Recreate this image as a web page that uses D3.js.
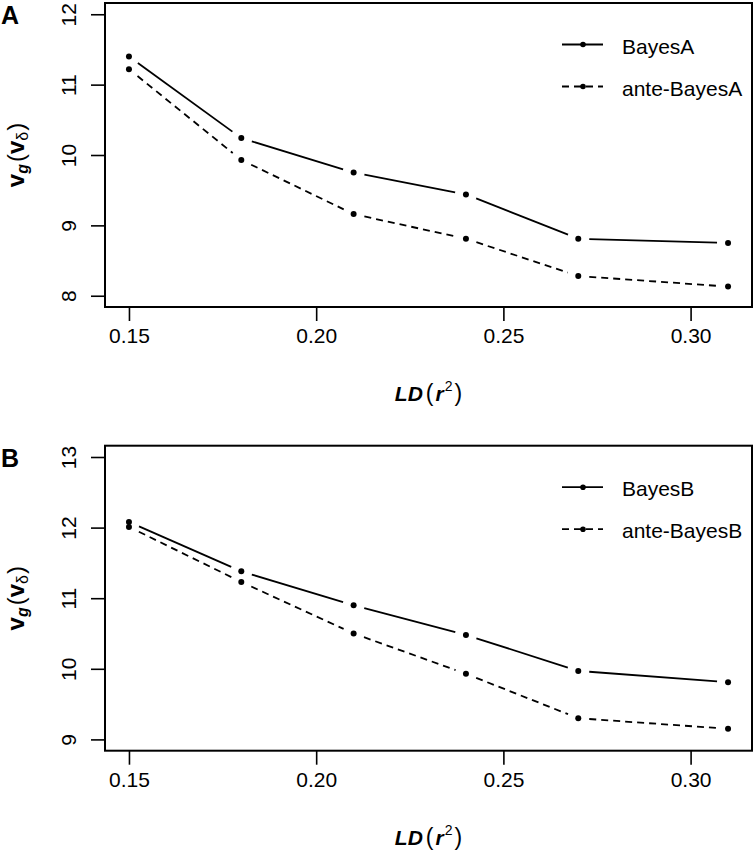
<!DOCTYPE html>
<html>
<head>
<meta charset="utf-8">
<script src="https://cdn.jsdelivr.net/npm/d3@7"></script>
<style>
  html, body { margin: 0; padding: 0; background: #fff; }
  svg { display: block; font-family: "Liberation Sans", Arial, sans-serif; }
</style>
</head>
<body>
<svg id="chart" width="756" height="853"></svg>
<script>
// ---- data ----
const ldValues = [0.15, 0.18, 0.21, 0.24, 0.27, 0.31];
const xTicks = [0.15, 0.20, 0.25, 0.30];
const xTickLabels = ["0.15", "0.20", "0.25", "0.30"];

const bayesA     = [11.40, 10.24, 9.75, 9.44, 8.81, 8.75];
const anteBayesA = [11.22,  9.93, 9.16, 8.81, 8.28, 8.13];
const yTicksA = [8, 9, 10, 11, 12];

const bayesB     = [12.08, 11.38, 10.90, 10.48, 9.97, 9.81];
const anteBayesB = [12.01, 11.23, 10.50,  9.93, 9.30, 9.15];
const yTicksB = [9, 10, 11, 12, 13];

const panels = [
  { tag: "A", top: 3,     bottom: 307,   ylim: [8, 12], yTicks: yTicksA,
    series: [{ name: "BayesA", values: bayesA, dash: null },
             { name: "ante-BayesA", values: anteBayesA, dash: "7,5" }] },
  { tag: "B", top: 445.7, bottom: 750.7, ylim: [9, 13], yTicks: yTicksB,
    series: [{ name: "BayesB", values: bayesB, dash: null },
             { name: "ante-BayesB", values: anteBayesB, dash: "7,5" }] }
];

const svg = d3.select("#chart");
const left = 105, right = 752;
const fs = 21;
const gap = 11;

panels.forEach(p => {
  const g = svg.append("g");
  const xr = [d3.min(ldValues), d3.max(ldValues)];
  const xpad = (xr[1] - xr[0]) * 0.04;
  const x = d3.scaleLinear().domain([xr[0] - xpad, xr[1] + xpad]).range([left, right]);
  const ypad = (p.ylim[1] - p.ylim[0]) * 0.04;
  const y = d3.scaleLinear().domain([p.ylim[0] - ypad, p.ylim[1] + ypad]).range([p.bottom, p.top]);

  // axes via d3
  const xAxis = d3.axisBottom(x).tickValues(xTicks).tickSize(14).tickPadding(12)
    .tickFormat((d, i) => xTickLabels[i]);
  const xg = g.append("g").attr("transform", `translate(0,${p.bottom})`).call(xAxis);
  xg.select(".domain").remove();
  xg.selectAll(".tick line").attr("stroke", "#000").attr("stroke-width", 1.6);
  xg.selectAll(".tick text").attr("font-size", fs).attr("fill", "#000")
    .attr("font-family", "Liberation Sans, Arial, sans-serif").attr("dy", null).attr("y", 36);

  const yAxis = d3.axisLeft(y).tickValues(p.yTicks).tickSize(14).tickFormat(d3.format("d"));
  const yg = g.append("g").attr("transform", `translate(${left},0)`).call(yAxis);
  yg.select(".domain").remove();
  yg.selectAll(".tick line").attr("stroke", "#000").attr("stroke-width", 1.6);
  yg.selectAll(".tick text").attr("font-size", fs).attr("fill", "#000")
    .attr("font-family", "Liberation Sans, Arial, sans-serif")
    .attr("x", null).attr("dy", null)
    .attr("text-anchor", "middle")
    .attr("transform", `translate(-29,0) rotate(-90)`);

  // box
  g.append("rect").attr("x", left).attr("y", p.top)
    .attr("width", right - left).attr("height", p.bottom - p.top)
    .attr("fill", "none").attr("stroke", "#000").attr("stroke-width", 2);

  // series (type = "b": lines with gaps around points)
  p.series.forEach(s => {
    const pts = ldValues.map((v, i) => [x(v), y(s.values[i])]);
    for (let i = 0; i < pts.length - 1; i++) {
      const [x1, y1] = pts[i], [x2, y2] = pts[i + 1];
      const len = Math.hypot(x2 - x1, y2 - y1);
      const ux = (x2 - x1) / len, uy = (y2 - y1) / len;
      g.append("line")
        .attr("x1", x1 + ux * gap).attr("y1", y1 + uy * gap)
        .attr("x2", x2 - ux * gap).attr("y2", y2 - uy * gap)
        .attr("stroke", "#000").attr("stroke-width", 1.8)
        .attr("stroke-dasharray", s.dash);
    }
    g.selectAll(null).data(pts).enter().append("circle")
      .attr("cx", d => d[0]).attr("cy", d => d[1]).attr("r", 3)
      .attr("fill", "#000");
  });

  // legend
  p.series.forEach((s, i) => {
    const ly = p.top + 41.5 + i * 42;
    g.append("line").attr("x1", 562).attr("x2", 603).attr("y1", ly).attr("y2", ly)
      .attr("stroke", "#000").attr("stroke-width", 1.8).attr("stroke-dasharray", s.dash ? "7,5" : null);
    g.append("circle").attr("cx", 583).attr("cy", ly).attr("r", 2.8).attr("fill", "#000");
    g.append("text").attr("x", 622).attr("y", ly + 9).attr("font-size", fs)
      .attr("fill", "#000").text(s.name);
  });

  // panel tag
  g.append("text").attr("x", 1).attr("y", p.top + 21).attr("font-size", 25)
    .attr("font-weight", "bold").attr("fill", "#000").text(p.tag);

  // y label: v_g(v_δ)
  const cy = (p.top + p.bottom) / 2;
  const yl = g.append("text").attr("transform", `translate(24,${cy}) rotate(-90)`)
    .attr("text-anchor", "middle").attr("font-size", 24).attr("fill", "#000");
  yl.append("tspan").attr("font-weight", "bold").text("v");
  yl.append("tspan").attr("font-style", "italic").attr("font-weight", "bold").attr("font-size", 16).attr("dy", 4).text("g");
  yl.append("tspan").attr("dy", -4).attr("dx", 2).text("(");
  yl.append("tspan").attr("font-weight", "bold").text("v");
  yl.append("tspan").attr("font-size", 16).attr("dy", 4).text("δ");
  yl.append("tspan").attr("dy", -4).attr("dx", 1).text(")");

  // x label: LD(r^2)
  const xl = g.append("text").attr("x", (left + right) / 2).attr("y", p.bottom + 94)
    .attr("text-anchor", "middle").attr("font-size", fs).attr("fill", "#000");
  xl.append("tspan").attr("font-weight", "bold").attr("font-style", "italic").text("LD");
  xl.append("tspan").attr("dx", 3).attr("font-size", 23).text("(");
  xl.append("tspan").attr("font-weight", "bold").attr("font-style", "italic").attr("dx", 2).text("r");
  xl.append("tspan").attr("font-size", 14).attr("dy", -10).attr("dx", 1).text("2");
  xl.append("tspan").attr("dy", 10).attr("dx", 2).attr("font-size", 23).text(")");
});
</script>
</body>
</html>
